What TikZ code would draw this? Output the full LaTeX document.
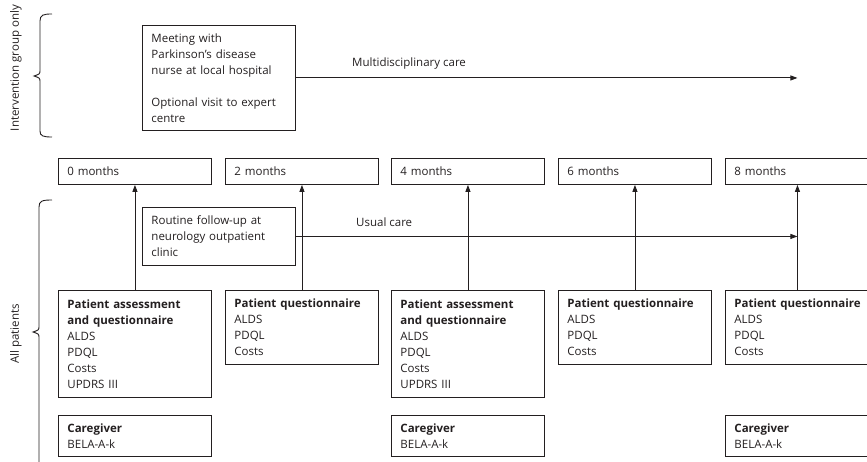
\documentclass[tikz,border=0pt]{standalone}
\usepackage{fontspec}
\setmainfont{Open Sans}
\usetikzlibrary{arrows.meta}
\definecolor{ink}{RGB}{35,31,32}
\begin{document}
\begin{tikzpicture}[x=1pt,y=-1pt,
  font=\fontsize{11.5}{16}\selectfont,
  box/.style={draw=ink, line width=0.9pt, anchor=north west, align=left,
    text width=135pt, inner xsep=9pt, inner ysep=3pt, text=ink},
  arr/.style={draw=ink, line width=0.9pt, -{Triangle[length=7pt,width=5pt]}},
  brace/.style={draw=ink, line width=0.9pt},
  lbl/.style={text=ink, inner sep=0pt}]
\useasboundingbox (0,0) rectangle (867,462);
\clip (0,0) rectangle (867,462);

% braces and side labels
\draw[brace] (52,14) .. controls (43,14) and (40,15) .. (40,21) -- (40,70)
  .. controls (40,74) .. (34,76) .. controls (40,78) .. (40,82) -- (40,131)
  .. controls (40,136) and (43,137) .. (52,137);
\draw[brace] (52,200) .. controls (42,200) and (39,201) .. (39,207) -- (39,326)
  .. controls (39,330) .. (33,332) .. controls (39,334) .. (39,338) -- (39,470);
\node[lbl, rotate=90] (lint) at (16,68) {Intervention group only};
\node[lbl, rotate=90] (lall) at (16,334) {All patients};

% intervention box
\node[box, minimum height=105pt] (int) at (142,25)
  {Meeting with\\Parkinson’s disease\\nurse at local hospital\\[15.5pt]Optional visit to expert\\centre};

% month boxes
\node[box, minimum height=26pt] (m0) at (58,158) {0 months};
\node[box, minimum height=26pt] (m2) at (225,158) {2 months};
\node[box, minimum height=26pt] (m4) at (391,158) {4 months};
\node[box, minimum height=26pt] (m6) at (558,158) {6 months};
\node[box, minimum height=26pt] (m8) at (725,158) {8 months};

% routine box
\node[box, minimum height=58pt] (rout) at (142,207)
  {Routine follow-up at\\neurology outpatient\\clinic};

% patient boxes
\node[box, minimum height=107pt] (p0) at (58,290)
  {\textbf{Patient assessment}\\\textbf{and questionnaire}\\ALDS\\PDQL\\Costs\\UPDRS III};
\node[box, minimum height=74pt] (p2) at (225,290)
  {\textbf{Patient questionnaire}\\ALDS\\PDQL\\Costs};
\node[box, minimum height=107pt] (p4) at (391,290)
  {\textbf{Patient assessment}\\\textbf{and questionnaire}\\ALDS\\PDQL\\Costs\\UPDRS III};
\node[box, minimum height=74pt] (p6) at (558,290)
  {\textbf{Patient questionnaire}\\ALDS\\PDQL\\Costs};
\node[box, minimum height=74pt] (p8) at (725,290)
  {\textbf{Patient questionnaire}\\ALDS\\PDQL\\Costs};

% caregiver boxes
\node[box, minimum height=41pt] (c0) at (58,415) {\textbf{Caregiver}\\BELA-A-k};
\node[box, minimum height=41pt] (c4) at (391,415) {\textbf{Caregiver}\\BELA-A-k};
\node[box, minimum height=41pt] (c8) at (725,415) {\textbf{Caregiver}\\BELA-A-k};

% vertical arrows
\draw[arr] (p0.north) -- (m0.south);
\draw[arr] (p2.north) -- (m2.south);
\draw[arr] (p4.north) -- (m4.south);
\draw[arr] (p6.north) -- (m6.south);
\coordinate (col8top) at ([xshift=-4.5pt]m8.south);
\coordinate (col8bot) at ([xshift=-4.5pt]p8.north);
\draw[arr] (col8bot) -- (col8top);

% horizontal arrows
\coordinate (mend) at (int.east -| col8top);
\coordinate (uend) at (rout.east -| col8top);
\draw[arr] (int.east) -- (mend);
\draw[arr] (rout.east) -- (uend);
\node[lbl, anchor=west] (lmd) at (352,64) {Multidisciplinary care};
\node[lbl, anchor=west] (luc) at (356,222) {Usual care};
\end{tikzpicture}
\end{document}
